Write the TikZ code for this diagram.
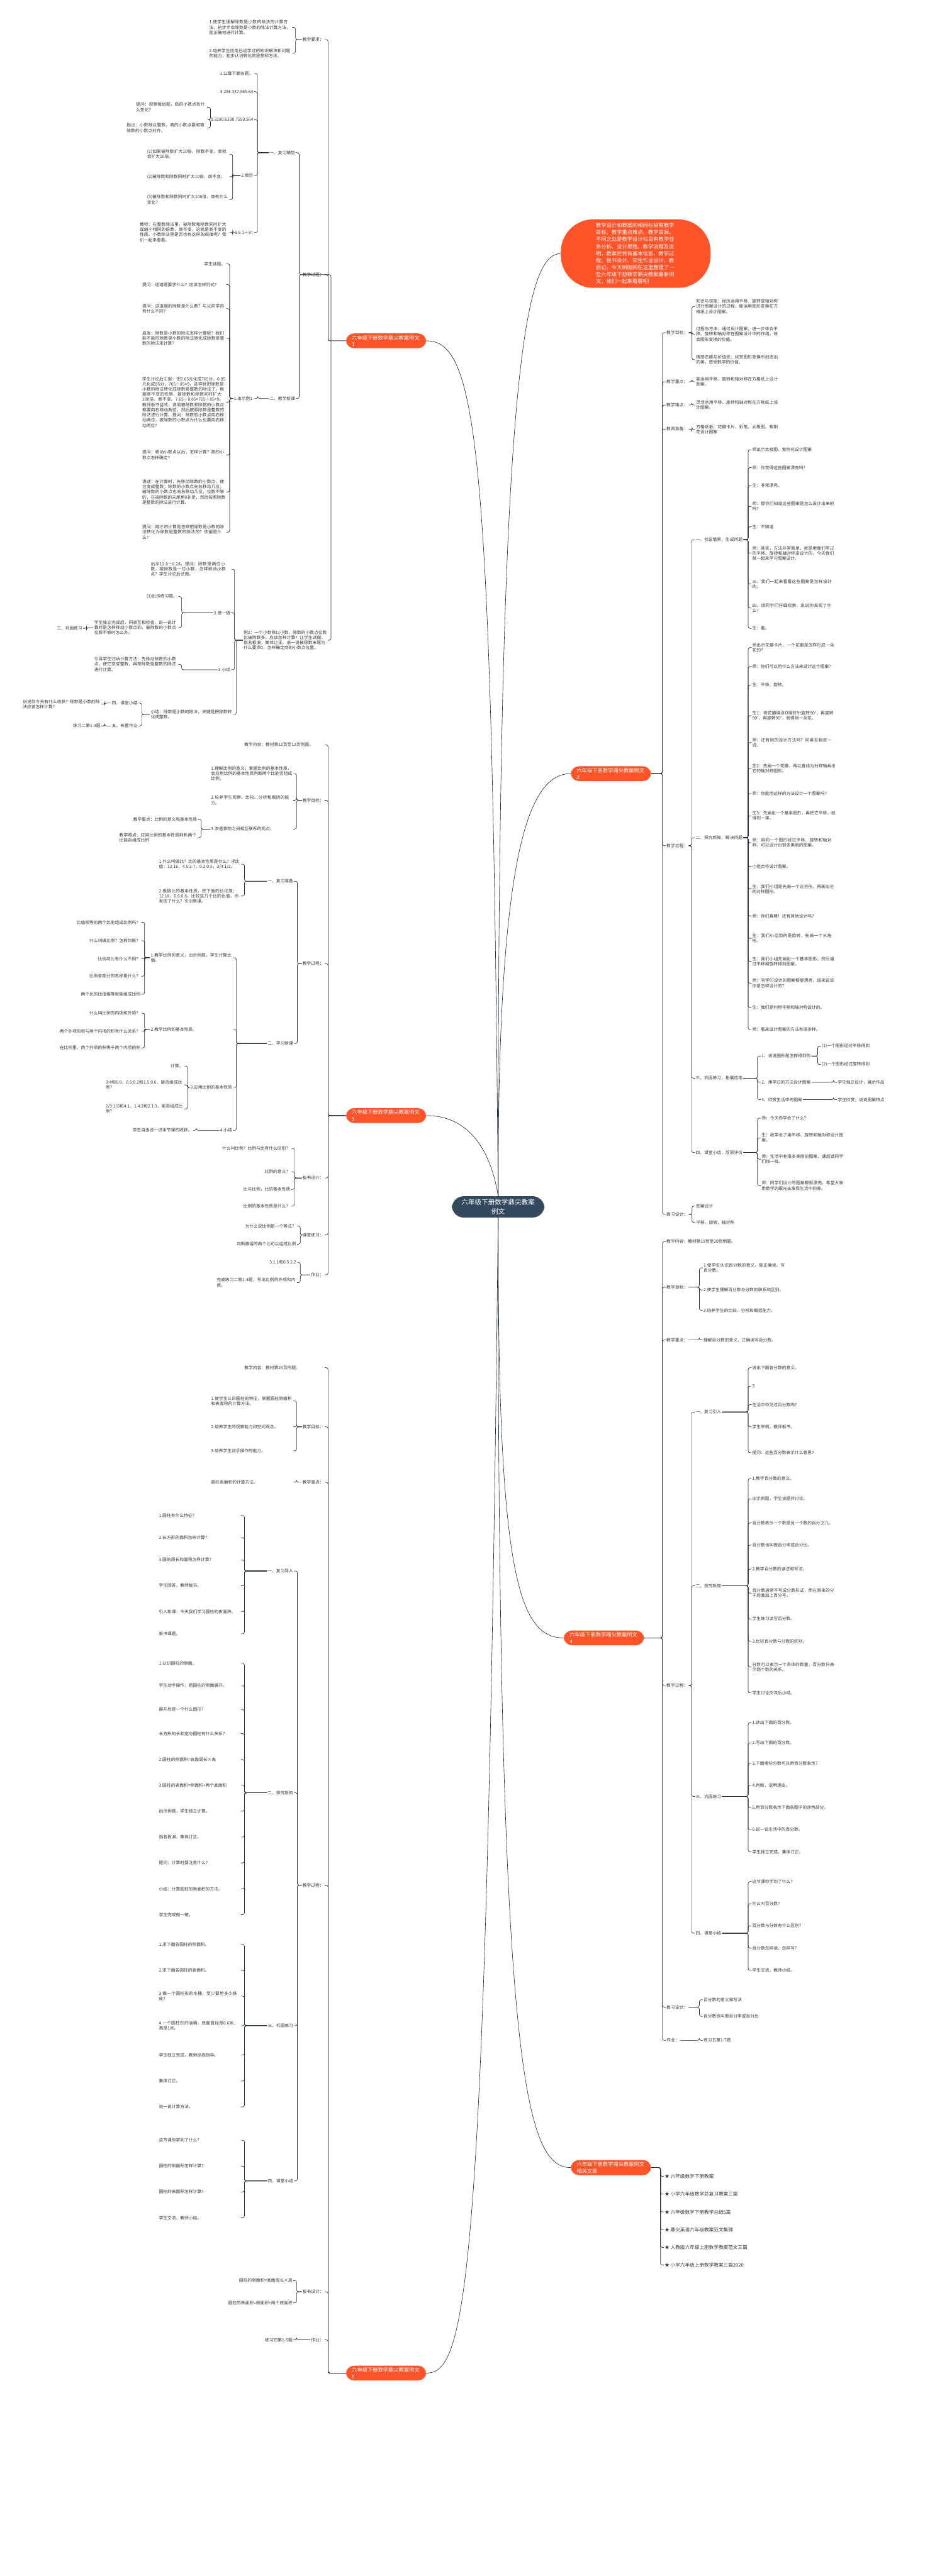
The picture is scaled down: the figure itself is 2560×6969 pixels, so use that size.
\documentclass[tikz,border=0pt]{standalone}
\usepackage{fontspec}
\setmainfont{Noto Sans CJK SC}
\XeTeXlinebreaklocale "zh"
\XeTeXlinebreakskip = 0pt plus 1pt
\usetikzlibrary{positioning}
\definecolor{cOrange}{RGB}{255,83,41}
\definecolor{cDark}{RGB}{52,73,94}
\definecolor{cLine}{RGB}{30,42,56}
\tikzset{
  root/.style={fill=cDark,rounded corners=32pt,text=white,font=\fontsize{18}{25}\selectfont,align=center,inner xsep=26pt,inner ysep=8pt},
  branch/.style={fill=cOrange,rounded corners=22pt,text=white,font=\fontsize{14}{18}\selectfont,align=left,inner xsep=16pt,inner ysep=5pt,text width=185pt},
  leaf/.style={font=\fontsize{11.5}{14}\selectfont,align=left,inner sep=2pt,text=black!80},
  box/.style={leaf,text width=#1},
  link/.style={cLine,line width=1.1pt}
}
% brackets: children to the right / to the left of a parent
\newcommand{\rkids}[2]{\foreach \c in {#2}{\draw[link,rounded corners=5pt] (\c.west) -- ++(-9,0) |- (#1.east);}}
\newcommand{\lkids}[2]{\foreach \c in {#2}{\draw[link,rounded corners=5pt] (\c.east) -- ++(9,0) |- (#1.west);}}
\begin{document}
\begin{tikzpicture}[x=1pt,y=-1pt]
  \useasboundingbox[fill=white] (0,0) rectangle (2560,6969);

  % ---- centre and main branches
  \node[root] (root) at (1347,3265) {六年级下册数学鼎尖教案\\例文};
  \node[branch,rounded corners=88pt,text width=215pt,inner xsep=95pt,inner ysep=10pt,font=\fontsize{14}{19}\selectfont] (intro) at (1719,686) {教学设计和教案的相同栏目有教学目标、教学重点难点、教学资源。不同之处是教学设计栏目有教学任务分析、设计思路、教学流程及说明，教案栏目有基本信息、教学过程、板书设计、学生作业设计、教后记。今天树图网在这里整理了一些六年级下册数学鼎尖教案最新例文，我们一起来看看吧!};
  \node[branch] (b1) at (1044,922) {六年级下册数学鼎尖教案例文1};
  \node[branch] (b2) at (1652,2093) {六年级下册数学鼎尖教案例文2};
  \node[branch] (b3) at (1044,3018) {六年级下册数学鼎尖教案例文3};
  \node[branch] (b4) at (1633,4431) {六年级下册数学鼎尖教案例文4};
  \node[branch] (b5) at (1044,6420) {六年级下册数学鼎尖教案例文5};
  \node[branch] (b6) at (1652,5864) {六年级下册数学鼎尖教案例文相关文章};

  \draw[link] (root.north) .. controls (1330,1200) and (1290,922) .. (b1.east);
  \draw[link] (root.north) .. controls (1345,1000) and (1420,686) .. (intro.west);
  \draw[link] (root.north) .. controls (1345,2300) and (1430,2093) .. (b2.west);
  \draw[link] (root.north) .. controls (1325,3100) and (1260,3018) .. (b3.east);
  \draw[link] (root.south) .. controls (1345,4250) and (1400,4431) .. (b4.west);
  \draw[link] (root.south) .. controls (1345,5600) and (1420,5864) .. (b6.west);
  \draw[link] (root.south) .. controls (1315,6200) and (1260,6420) .. (b5.east);

  % ---- branch 1
  \node[leaf,anchor=east] (a1) at (878,107) {教学要求：};
  \node[box=222pt,anchor=east] (a11) at (790,74) {1.使学生理解除数是小数的除法的计算方法，初步学会除数是小数的除法计算方法，能正确地进行计算。};
  \node[box=222pt,anchor=east] (a12) at (790,144) {2.培养学生应用已经学过的知识解决新问题的能力，初步认识转化的思想和方法。};
  \lkids{a1}{a11,a12}
  \node[leaf,anchor=east] (a2) at (878,743) {教学过程：};
  \node[leaf,anchor=east] (a21) at (800,413) {一、复习铺垫};
  \node[leaf,anchor=east] (a211) at (687,199) {1.口算下面各题。};
  \node[leaf,anchor=east] (a212) at (687,248) {3.286.337.555.64};
  \node[leaf,anchor=east] (a213) at (687,324) {0.3280.6330.7550.564};
  \node[leaf,anchor=east] (a214) at (687,475) {2.填空};
  \node[leaf,anchor=east] (a215) at (687,629) {3.5.1÷3=};
  \lkids{a21}{a211,a212,a213,a214,a215}
  \node[box=190pt,anchor=east] (a2131) at (560,290) {提问：观察每组题，商的小数点有什么变化？};
  \node[box=215pt,anchor=east] (a2132) at (560,346) {指出：小数除以整数，商的小数点要和被除数的小数点对齐。};
  \lkids{a213}{a2131,a2132}
  \node[box=220pt,anchor=east] (a2141) at (620,417) {(1)如果被除数扩大10倍，除数不变，商就会扩大10倍。};
  \node[box=220pt,anchor=east] (a2142) at (620,478) {(2)被除数和除数同时扩大10倍，商不变。};
  \node[box=220pt,anchor=east] (a2143) at (620,540) {(3)被除数和除数同时扩大100倍，商有什么变化？};
  \lkids{a214}{a2141,a2142,a2143}
  \node[box=240pt,anchor=east] (a2151) at (620,628) {教师：在整数除法里，被除数和除数同时扩大或缩小相同的倍数，商不变，这就是商不变的性质。小数除法里是否也有这样的规律呢？我们一起来看看。};
  \lkids{a215}{a2151}
  \node[leaf,anchor=east] (a22) at (800,1078) {二、教学新课};
  \node[leaf,anchor=east] (a221) at (688,1078) {1.出示例1.};
  \lkids{a22}{a221}
  \node[leaf,anchor=east] (a2211) at (612,714) {学生读题。};
  \node[box=225pt,anchor=east] (a2212) at (612,770) {提问：这道题要求什么？应该怎样列式？};
  \node[box=225pt,anchor=east] (a2213) at (612,835) {提问：这道题的除数是什么数？与以前学的有什么不同？};
  \node[box=225pt,anchor=east] (a2214) at (612,915) {启发：除数是小数的除法怎样计算呢？我们能不能把除数是小数的除法转化成除数是整数的除法来计算？};
  \node[box=225pt,anchor=east] (a2215) at (612,1088) {学生讨论后汇报：把7.65元化成765分，0.85元化成85分，765÷85=9，这样就把除数是小数的除法转化成除数是整数的除法了。根据商不变的性质，被除数和除数同时扩大100倍，商不变。7.65÷0.85=765÷85=9。教师板书竖式，说明被除数和除数的小数点都要向右移动两位，然后按照除数是整数的除法进行计算。提问：除数的小数点向右移动两位，被除数的小数点为什么也要向右移动两位？};
  \node[box=225pt,anchor=east] (a2216) at (612,1231) {提问：移动小数点以后，怎样计算？商的小数点怎样确定？};
  \node[box=225pt,anchor=east] (a2217) at (612,1331) {讲述：在计算时，先移动除数的小数点，使它变成整数；除数的小数点向右移动几位，被除数的小数点也向右移动几位，位数不够的，在被除数的末尾用0补足，然后按照除数是整数的除法进行计算。};
  \node[box=225pt,anchor=east] (a2218) at (612,1440) {提问：刚才的计算是怎样把除数是小数的除法转化为除数是整数的除法的？依据是什么？};
  \lkids{a221}{a2211,a2212,a2213,a2214,a2215,a2216,a2217,a2218}
  \node[box=225pt,anchor=east] (a23) at (886,1732) {例2：一个小数除以小数，除数的小数点位数比被除数多，应该怎样计算？让学生试做，指名板演，集体订正。说一说被除数末尾为什么要添0，怎样确定商的小数点位置。};
  \node[box=215pt,anchor=east] (a231) at (625,1540) {出示12.6÷0.28，提问：除数是两位小数，被除数是一位小数，怎样移动小数点？学生讨论后试做。};
  \node[leaf,anchor=east] (a232) at (625,1658) {2.做一做};
  \node[leaf,anchor=east] (a233) at (625,1812) {3.小结};
  \node[box=220pt,anchor=east] (a234) at (630,1933) {小结：除数是小数的除法，关键是把除数转化成整数。};
  \lkids{a2}{a21,a22,a23}
  \lkids{b1}{a1,a2}
  \lkids{a23}{a231,a232,a233,a234}
  \node[leaf,anchor=east] (a2321) at (482,1614) {(1)出示练习题。};
  \node[box=225pt,anchor=east] (a2322) at (482,1698) {学生独立完成后，同桌互相检查，说一说计算时是怎样移动小数点的，被除数的小数点位数不够时怎么办。};
  \lkids{a232}{a2321,a2322}
  \node[leaf,anchor=east] (a2323) at (225,1700) {三、巩固练习};
  \lkids{a2322}{a2323}
  \node[box=225pt,anchor=east] (a2331) at (482,1797) {引导学生归纳计算方法：先移动除数的小数点，使它变成整数，再按除数是整数的除法进行计算。};
  \lkids{a233}{a2331}
  \node[leaf,anchor=east] (a2341) at (374,1902) {四、课堂小结};
  \node[leaf,anchor=east] (a2342) at (374,1964) {五、布置作业};
  \lkids{a234}{a2341,a2342}
  \node[box=210pt,anchor=east] (a23411) at (274,1905) {说说你今天有什么收获？除数是小数的除法应该怎样计算？};
  \lkids{a2341}{a23411}
  \node[leaf,anchor=east] (a23421) at (274,1964) {练习二第1-3题};
  \lkids{a2342}{a23421}

  % ---- branch 2
  \node[leaf,anchor=west] (c1) at (1800,900) {教学目标：};
  \node[box=225pt,anchor=west] (c11) at (1880,829) {知识与技能：经历运用平移、旋转或轴对称进行图案设计的过程，能运用图形变换在方格纸上设计图案。};
  \node[box=225pt,anchor=west] (c12) at (1880,904) {过程与方法：通过设计图案，进一步体会平移、旋转和轴对称在图案设计中的作用，体会图形变换的价值。};
  \node[box=225pt,anchor=west] (c13) at (1880,973) {情感态度与价值观：欣赏图形变换所创造出的美，感受数学的价值。};
  \rkids{c1}{c11,c12,c13}
  \node[leaf,anchor=west] (c2) at (1800,1033) {教学重点：};
  \node[box=225pt,anchor=west] (c21) at (1880,1033) {能运用平移、旋转和轴对称在方格纸上设计图案。};
  \rkids{c2}{c21}
  \node[leaf,anchor=west] (c3) at (1800,1096) {教学难点：};
  \node[box=225pt,anchor=west] (c31) at (1880,1096) {灵活运用平移、旋转和轴对称在方格纸上设计图案。};
  \rkids{c3}{c31}
  \node[leaf,anchor=west] (c4) at (1800,1161) {教具准备：};
  \node[box=225pt,anchor=west] (c41) at (1880,1162) {方格纸板、花瓣卡片、彩笔、太极图、紫荆花设计图案};
  \rkids{c4}{c41}
  \node[leaf,anchor=west] (c5) at (1800,2288) {教学过程：};
  \node[leaf,anchor=west] (c51) at (1879,1460) {一、创设情景，生成问题};
  \node[leaf,anchor=west] (c511) at (2032,1217) {师出示太极图、紫荆花设计图案};
  \node[leaf,anchor=west] (c512) at (2032,1265) {师：你觉得这些图案漂亮吗?};
  \node[leaf,anchor=west] (c513) at (2032,1314) {生：非常漂亮。};
  \node[box=225pt,anchor=west] (c514) at (2032,1370) {师：那你们知道这些图案是怎么设计出来的吗?};
  \node[leaf,anchor=west] (c515) at (2032,1425) {生：不知道};
  \node[box=225pt,anchor=west] (c516) at (2032,1497) {师：其实，方法非常简单，就是用我们学过的平移、旋转和轴对称来设计的，今天我们就一起来学习图案设计。};
  \node[box=225pt,anchor=west] (c517) at (2032,1580) {三、我们一起来看看这些图案是怎样设计的。};
  \node[box=225pt,anchor=west] (c518) at (2032,1645) {四、请同学们仔细观察，说说你发现了什么？};
  \node[leaf,anchor=west] (c519) at (2032,1700) {生：看。};
  \rkids{c51}{c511,c512,c513,c514,c515,c516,c517,c518,c519}
  \node[leaf,anchor=west] (c52) at (1879,2266) {二、探究新知，解决问题};
  \foreach \n/\y/\t in {1/1752/师出示花瓣卡片，一个花瓣是怎样形成一朵花的？,
      2/1803/师：你们可以用什么方法来设计这个图案？,
      3/1853/生：平移、旋转。,
      4/1936/生1：将花瓣绕点O顺时针旋转90°，再旋转90°，再旋转90°，就得到一朵花。,
      5/2009/师：还有别的设计方法吗？同桌互相说一说。,
      6/2079/生2：先画一个花瓣，再以直线为对称轴画出它的轴对称图形。,
      7/2147/师：你能用这样的方法设计一个图案吗？,
      8/2207/生3：先画出一个基本图形，再把它平移，就得到一排。,
      9/2280/师：用同一个图形经过平移、旋转和轴对称，可以设计出很多美丽的图案。,
      10/2344/小组合作设计图案。,
      11/2405/生：我们小组是先画一个正方形，再画出它的对称图形。,
      12/2478/师：你们真棒！还有其他设计吗？,
      13/2539/生：我们小组用的是旋转，先画一个三角形。,
      14/2601/生：我们小组先画出一个基本图形，然后通过平移和旋转得到图案。,
      15/2660/师：同学们设计的图案都很漂亮，谁来说说你是怎样设计的？,
      16/2726/生：我们是利用平移和轴对称设计的。,
      17/2785/师：看来设计图案的方法有很多种。}
    {\node[box=225pt,anchor=west] (c52\n) at (2032,\y) {\t};}
  \rkids{c52}{c521,c522,c523,c524,c525,c526,c527,c528,c529,c5210,c5211,c5212,c5213,c5214,c5215,c5216,c5217}
  \node[leaf,anchor=west] (c53) at (1879,2917) {三、巩固练习，拓展应用};
  \node[leaf,anchor=west] (c531) at (2057,2857) {1、说说图形是怎样得到的};
  \node[leaf,anchor=west] (c532) at (2057,2928) {2、用学过的方法设计图案};
  \node[leaf,anchor=west] (c533) at (2057,2975) {3、欣赏生活中的图案};
  \rkids{c53}{c531,c532,c533}
  \node[leaf,anchor=west] (c5311) at (2220,2830) {(1)一个图形经过平移得到};
  \node[leaf,anchor=west] (c5312) at (2220,2880) {(2)一个图形经过旋转得到};
  \rkids{c531}{c5311,c5312}
  \node[leaf,anchor=west] (c5321) at (2263,2928) {学生独立设计，展示作品};
  \rkids{c532}{c5321}
  \node[leaf,anchor=west] (c5331) at (2263,2975) {学生欣赏，说说图案特点};
  \rkids{c533}{c5331}
  \node[leaf,anchor=west] (c54) at (1879,3118) {四、课堂小结，反思评价};
  \node[leaf,anchor=west] (c541) at (2057,3025) {师：今天你学会了什么？};
  \node[box=225pt,anchor=west] (c542) at (2057,3078) {生：我学会了用平移、旋转和轴对称设计图案。};
  \node[box=225pt,anchor=west] (c543) at (2057,3136) {师：生活中有很多美丽的图案，课后请同学们找一找。};
  \node[box=225pt,anchor=west] (c544) at (2057,3208) {师：同学们设计的图案都很漂亮，希望大家用数学的眼光去发现生活中的美。};
  \rkids{c54}{c541,c542,c543,c544}
  \rkids{c5}{c51,c52,c53,c54}
  \node[leaf,anchor=west] (c6) at (1800,3285) {板书设计：};
  \node[leaf,anchor=west] (c61) at (1880,3263) {图案设计};
  \node[leaf,anchor=west] (c62) at (1880,3307) {平移、旋转、轴对称};
  \rkids{c6}{c61,c62}
  \rkids{b2}{c1,c2,c3,c4,c5,c6}

  % ---- branch 3
  \node[box=215pt,anchor=east] (d1) at (878,2015) {教学内容：教材第11页至12页例题。};
  \node[leaf,anchor=east] (d2) at (878,2165) {教学目标：};
  \node[box=220pt,anchor=east] (d21) at (793,2093) {1.理解比例的意义，掌握比例的基本性质，会应用比例的基本性质判断两个比能否组成比例。};
  \node[box=220pt,anchor=east] (d22) at (793,2165) {2.培养学生观察、比较、分析和概括的能力。};
  \node[box=220pt,anchor=east] (d23) at (793,2243) {3.渗透事物之间相互联系的观点。};
  \lkids{d2}{d21,d22,d23}
  \node[leaf,anchor=east] (d231) at (535,2216) {教学重点：比例的意义和基本性质};
  \node[box=210pt,anchor=east] (d232) at (535,2266) {教学难点：应用比例的基本性质判断两个比能否组成比例};
  \lkids{d23}{d231,d232}
  \node[leaf,anchor=east] (d3) at (878,2607) {教学过程：};
  \node[leaf,anchor=east] (d31) at (795,2384) {一、复习准备};
  \node[box=220pt,anchor=east] (d311) at (652,2338) {1.什么叫做比？比的基本性质是什么？求比值：12:16，4.5:2.7，0.2:0.5，3/4:1/2。};
  \node[box=220pt,anchor=east] (d312) at (652,2424) {2.根据比的基本性质，把下面的比化简：12:18，0.6:0.8。比较这几个比的比值，你发现了什么？引出新课。};
  \lkids{d31}{d311,d312}
  \node[leaf,anchor=east] (d32) at (795,2823) {二、学习新课};
  \node[box=220pt,anchor=east] (d321) at (630,2591) {1.教学比例的意义，出示例题，学生计算比值。};
  \foreach \n/\y/\t in {1/2495/比值相等的两个比能组成比例吗？,2/2545/什么叫做比例？怎样判断？,3/2594/比例与比有什么不同？,4/2641/比例各部分的名称是什么？,5/2690/两个比的比值相等就能组成比例}
    {\node[leaf,anchor=east] (d321\n) at (382,\y) {\t};}
  \lkids{d321}{d3211,d3212,d3213,d3214,d3215}
  \node[box=220pt,anchor=east] (d322) at (630,2785) {2.教学比例的基本性质。};
  \foreach \n/\y/\t in {1/2741/什么叫比例的内项和外项？,2/2790/两个外项的积与两个内项的积有什么关系？,3/2835/在比例里，两个外项的积等于两个内项的积}
    {\node[leaf,anchor=east] (d322\n) at (382,\y) {\t};}
  \lkids{d322}{d3221,d3222,d3223}
  \node[leaf,anchor=east] (d323) at (630,2942) {3.应用比例的基本性质};
  \node[leaf,anchor=east] (d3231) at (498,2884) {计算。};
  \node[box=210pt,anchor=east] (d3232) at (498,2935) {3:4和6:8，0.5:0.2和1.5:0.6，能否组成比例？};
  \node[box=210pt,anchor=east] (d3233) at (498,3000) {2/3:1/6和4:1，1.4:2和2.1:3，能否组成比例？};
  \lkids{d323}{d3231,d3232,d3233}
  \node[leaf,anchor=east] (d324) at (630,3058) {4.小结};
  \node[leaf,anchor=east] (d3241) at (522,3058) {学生自由说一说本节课的收获。};
  \lkids{d324}{d3241}
  \lkids{d32}{d321,d322,d323,d324}
  \lkids{d3}{d31,d32}
  \node[leaf,anchor=east] (d4) at (878,3187) {板书设计：};
  \node[leaf,anchor=east] (d41) at (787,3107) {什么叫比例？比例与比有什么区别？};
  \node[leaf,anchor=east] (d42) at (787,3170) {比例的意义？};
  \node[leaf,anchor=east] (d43) at (787,3218) {比与比例，比的基本性质};
  \node[leaf,anchor=east] (d44) at (787,3263) {比例的基本性质是什么？};
  \lkids{d4}{d41,d42,d43,d44}
  \node[leaf,anchor=east] (d5) at (878,3341) {课堂练习：};
  \node[leaf,anchor=east] (d51) at (803,3317) {为什么说比例是一个等式？};
  \node[leaf,anchor=east] (d52) at (803,3366) {判断哪组的两个比可以组成比例};
  \lkids{d5}{d51,d52}
  \node[leaf,anchor=east] (d6) at (878,3449) {作业：};
  \node[leaf,anchor=east] (d61) at (803,3415) {3:1.1和0.5:2.2};
  \node[box=215pt,anchor=east] (d62) at (803,3470) {完成练习二第1-4题，写出比例的外项和内项。};
  \lkids{d6}{d61,d62}
  \lkids{b3}{d1,d2,d3,d4,d5,d6}

  % ---- branch 4
  \node[box=260pt,anchor=west] (e1) at (1800,3359) {教学内容：教材第19页至20页例题。};
  \node[leaf,anchor=west] (e2) at (1800,3482) {教学目标：};
  \node[box=225pt,anchor=west] (e21) at (1900,3430) {1.使学生认识百分数的意义，能正确读、写百分数。};
  \node[box=225pt,anchor=west] (e22) at (1900,3490) {2.使学生理解百分数与分数的联系和区别。};
  \node[box=225pt,anchor=west] (e23) at (1900,3545) {3.培养学生的比较、分析和概括能力。};
  \rkids{e2}{e21,e22,e23}
  \node[leaf,anchor=west] (e3) at (1800,3625) {教学重点：};
  \node[box=225pt,anchor=west] (e31) at (1900,3625) {理解百分数的意义，正确读写百分数。};
  \rkids{e3}{e31}
  \node[leaf,anchor=west] (e4) at (1800,4560) {教学过程：};
  \node[leaf,anchor=west] (e41) at (1879,3820) {一、复习引入};
  \foreach \n/\y/\t in {1/3700/说出下面各分数的意义。,2/3750/3/4\ \ 5/8\ \ 7/10,3/3800/生活中你见过百分数吗？,4/3860/学生举例，教师板书。,5/3930/提问：这些百分数表示什么意思？}
    {\node[box=225pt,anchor=west] (e41\n) at (2032,\y) {\t};}
  \rkids{e41}{e411,e412,e413,e414,e415}
  \node[leaf,anchor=west] (e42) at (1879,4290) {二、探究新知};
  \foreach \n/\y/\t in {1/4000/1.教学百分数的意义。,2/4055/出示例题，学生读题并讨论。,3/4120/百分数表示一个数是另一个数的百分之几。,4/4180/百分数也叫做百分率或百分比。,5/4245/2.教学百分数的读法和写法。,6/4310/百分数通常不写成分数形式，而在原来的分子后面加上百分号。,7/4380/学生练习读写百分数。,8/4440/3.比较百分数与分数的区别。,9/4510/分数可以表示一个具体的数量，百分数只表示两个数的关系。,10/4580/学生讨论交流后小结。}
    {\node[box=225pt,anchor=west] (e42\n) at (2032,\y) {\t};}
  \rkids{e42}{e421,e422,e423,e424,e425,e426,e427,e428,e429,e4210}
  \node[leaf,anchor=west] (e43) at (1879,4860) {三、巩固练习};
  \foreach \n/\y/\t in {1/4660/1.读出下面的百分数。,2/4715/2.写出下面的百分数。,3/4770/3.下面哪些分数可以用百分数表示？,4/4830/4.判断，说明理由。,5/4890/5.用百分数表示下面各图中的涂色部分。,6/4950/6.说一说生活中的百分数。,7/5010/学生独立完成，集体订正。}
    {\node[box=225pt,anchor=west] (e43\n) at (2032,\y) {\t};}
  \rkids{e43}{e431,e432,e433,e434,e435,e436,e437}
  \node[leaf,anchor=west] (e44) at (1879,5230) {四、课堂小结};
  \foreach \n/\y/\t in {1/5090/这节课你学到了什么？,2/5150/什么叫百分数？,3/5210/百分数与分数有什么区别？,4/5270/百分数怎样读、怎样写？,5/5330/学生交流，教师小结。}
    {\node[box=225pt,anchor=west] (e44\n) at (2032,\y) {\t};}
  \rkids{e44}{e441,e442,e443,e444,e445}
  \rkids{e4}{e41,e42,e43,e44}
  \node[leaf,anchor=west] (e5) at (1800,5430) {板书设计：};
  \node[leaf,anchor=west] (e51) at (1900,5410) {百分数的意义和写法};
  \node[leaf,anchor=west] (e52) at (1900,5455) {百分数也叫做百分率或百分比};
  \rkids{e5}{e51,e52}
  \node[leaf,anchor=west] (e6) at (1800,5520) {作业：};
  \node[leaf,anchor=west] (e61) at (1900,5520) {练习五第1-7题};
  \rkids{e6}{e61}
  \rkids{b4}{e1,e2,e3,e4,e5,e6}

  % ---- branch 5
  \node[box=215pt,anchor=east] (g1) at (878,3700) {教学内容：教材第25页例题。};
  \node[leaf,anchor=east] (g2) at (878,3860) {教学目标：};
  \node[box=220pt,anchor=east] (g21) at (793,3790) {1.使学生认识圆柱的特征，掌握圆柱侧面积和表面积的计算方法。};
  \node[box=220pt,anchor=east] (g22) at (793,3860) {2.培养学生的观察能力和空间观念。};
  \node[box=220pt,anchor=east] (g23) at (793,3925) {3.培养学生动手操作的能力。};
  \lkids{g2}{g21,g22,g23}
  \node[leaf,anchor=east] (g3) at (878,4010) {教学重点：};
  \node[box=220pt,anchor=east] (g31) at (793,4010) {圆柱表面积的计算方法。};
  \lkids{g3}{g31}
  \node[leaf,anchor=east] (g4) at (878,5100) {教学过程：};
  \node[leaf,anchor=east] (g41) at (795,4250) {一、复习导入};
  \foreach \n/\y/\t in {1/4100/1.圆柱有什么特征？,2/4160/2.长方形的面积怎样计算？,3/4220/3.圆的周长和面积怎样计算？,4/4290/学生回答，教师板书。,5/4360/引入新课：今天我们学习圆柱的表面积。,6/4420/板书课题。}
    {\node[box=220pt,anchor=east] (g41\n) at (652,\y) {\t};}
  \lkids{g41}{g411,g412,g413,g414,g415,g416}
  \node[leaf,anchor=east] (g42) at (795,4850) {二、探究新知};
  \foreach \n/\y/\t in {1/4500/1.认识圆柱的侧面。,2/4560/学生动手操作，把圆柱的侧面展开。,3/4625/展开后是一个什么图形？,4/4690/长方形的长和宽与圆柱有什么关系？,5/4760/2.圆柱的侧面积=底面周长×高,6/4830/3.圆柱的表面积=侧面积+两个底面积,7/4900/出示例题，学生独立计算。,8/4970/指名板演，集体订正。,9/5040/提问：计算时要注意什么？,10/5110/小结：计算圆柱的表面积的方法。,11/5180/学生完成做一做。}
    {\node[box=220pt,anchor=east] (g42\n) at (652,\y) {\t};}
  \lkids{g42}{g421,g422,g423,g424,g425,g426,g427,g428,g429,g4210,g4211}
  \node[leaf,anchor=east] (g43) at (795,5480) {三、巩固练习};
  \foreach \n/\y/\t in {1/5260/1.求下面各圆柱的侧面积。,2/5330/2.求下面各圆柱的表面积。,3/5400/3.做一个圆柱形的水桶，至少要用多少铁皮？,4/5480/4.一个圆柱形的油桶，底面直径是0.6米，高是1米。,5/5560/学生独立完成，教师巡视指导。,6/5630/集体订正。,7/5700/说一说计算方法。}
    {\node[box=220pt,anchor=east] (g43\n) at (652,\y) {\t};}
  \lkids{g43}{g431,g432,g433,g434,g435,g436,g437}
  \node[leaf,anchor=east] (g44) at (795,5900) {四、课堂小结};
  \foreach \n/\y/\t in {1/5790/这节课你学到了什么？,2/5860/圆柱的侧面积怎样计算？,3/5930/圆柱的表面积怎样计算？,4/6000/学生交流，教师小结。}
    {\node[box=220pt,anchor=east] (g44\n) at (652,\y) {\t};}
  \lkids{g44}{g441,g442,g443,g444}
  \lkids{g4}{g41,g42,g43,g44}
  \node[leaf,anchor=east] (g5) at (878,6200) {板书设计：};
  \node[leaf,anchor=east] (g51) at (793,6170) {圆柱的侧面积=底面周长×高};
  \node[leaf,anchor=east] (g52) at (793,6230) {圆柱的表面积=侧面积+两个底面积};
  \lkids{g5}{g51,g52}
  \node[leaf,anchor=east] (g6) at (878,6330) {作业：};
  \node[leaf,anchor=east] (g61) at (793,6330) {练习四第1-5题};
  \lkids{g6}{g61}
  \lkids{b5}{g1,g2,g3,g4,g5,g6}

  % ---- related articles
  \foreach \n/\y/\t in {1/5888/六年级数学下册教案,2/5936/小学六年级数学总复习教案三篇,3/5984/六年级数学下册教学总结5篇,4/6032/鼎尖英语六年级教案范文集锦,5/6080/人教版六年级上册数学教案范文三篇,6/6128/小学六年级上册数学教案三篇2020}
    {\node[leaf,anchor=west,font=\fontsize{13}{16}\selectfont] (f\n) at (1795,\y) {★ \t};}
  \rkids{b6}{f1,f2,f3,f4,f5,f6}
\end{tikzpicture}
\end{document}
